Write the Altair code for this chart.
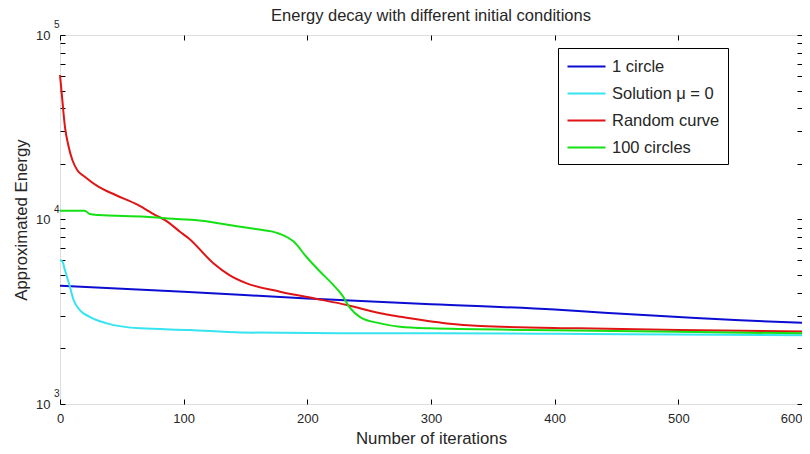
import altair as alt
import pandas as pd

title_text = "Energy decay with different initial conditions"
x_title = "Number of iterations"
y_title = "Approximated Energy"

series_names = ["1 circle", "Solution \u03bc = 0", "Random curve", "100 circles"]
series_colors = ["#0c0cd2", "#36e4f0", "#e01414", "#14e014"]

blue_x = [0, 100, 200, 300, 400, 440, 500, 550, 600]
blue_y = [4370, 4060, 3730, 3470, 3250, 3120, 2960, 2840, 2760]

cyan_x = [0, 2, 4, 8, 11, 16, 24, 38, 65, 105, 146, 226, 300, 400, 500, 600]
cyan_y = [6030, 5900, 5320, 4325, 3660, 3230, 2970, 2735, 2570, 2520, 2440, 2420, 2420, 2400, 2380, 2360]

red_x = [0, 1.4, 4, 7, 10, 14, 20, 31, 45, 63, 77, 85, 97, 104, 124, 137, 151, 178, 205,
         232, 259, 275, 313, 340, 420, 500, 600]
red_y = [60700, 48300, 31800, 24800, 21000, 18500, 17060, 15060, 13580, 12000, 10570, 9930, 8590,
         7910, 5800, 5000, 4510, 4063, 3740, 3440, 3100, 2973, 2735, 2650, 2570, 2520, 2470]

green_x = [0, 20, 24, 31, 69, 97, 109, 137, 164, 171, 178, 189, 199, 210, 221, 228, 234, 243,
           259, 275, 299, 380, 500, 600]
green_y = [11170, 11170, 10700, 10570, 10350, 10020, 9930, 9330, 8770, 8620, 8350, 7590, 6300,
           5240, 4420, 3900, 3350, 2950, 2735, 2620, 2570, 2520, 2460, 2415]

x_ticks = [0, 100, 200, 300, 400, 500, 600]
y_ticks = [1000, 2000, 3000, 4000, 5000, 6000, 7000, 8000, 9000,
           10000, 20000, 30000, 40000, 50000, 60000, 70000, 80000, 90000, 100000]
decade_values = [1000, 10000, 100000]
decade_exponents = ["3", "4", "5"]

frames = []
for name, xs, ys in zip(series_names, [blue_x, cyan_x, red_x, green_x],
                        [blue_y, cyan_y, red_y, green_y]):
    frames.append(pd.DataFrame({"iter": xs, "energy": ys, "series": name}))
df = pd.concat(frames, ignore_index=True)
exp_df = pd.DataFrame({"pos": decade_values, "exp": decade_exponents})

FONT = "Liberation Sans"
TXT = "#262626"
inward = {"expr": "-5"}

x_scale = alt.Scale(domain=[0, 600], nice=False, zero=False)
y_scale = alt.Scale(type="log", domain=[1000, 100000], nice=False)

lines = alt.Chart(df).mark_line(strokeWidth=2, interpolate="monotone").encode(
    x=alt.X("iter:Q", scale=x_scale,
            axis=alt.Axis(values=x_ticks, tickSize=inward, tickColor="black", labelPadding=13,
                          labelFontSize=13, labelFont=FONT, labelColor=TXT, grid=False,
                          labelAlign={"condition": {"test": "datum.value == 600", "value": "right"},
                                      "value": "center"},
                          domain=False, title=x_title, titleFont=FONT, titleFontSize=16.8,
                          titleFontWeight="normal", titleColor=TXT, titlePadding=5,
                          labelFlush=False)),
    y=alt.Y("energy:Q", scale=y_scale,
            axis=alt.Axis(values=y_ticks, tickSize=inward, tickColor="black", labelPadding=15,
                          labelExpr="(datum.value == 1000 || datum.value == 10000 || datum.value == 100000) ? '10' : ''",
                          labelFontSize=13, labelFont=FONT, labelColor=TXT, grid=False,
                          domain=False, title=y_title, titleFont=FONT, titleFontSize=16.8,
                          titleFontWeight="normal", titleColor=TXT, titlePadding=5)),
    color=alt.Color("series:N", scale=alt.Scale(domain=series_names, range=series_colors),
                    legend=alt.Legend(orient="none", legendX=498, legendY=13, title=None,
                                      symbolType="M-2,0H2", symbolSize=361, symbolStrokeWidth=2,
                                      symbolOffset=10, labelOffset=15, labelFontSize=16.5,
                                      labelFont=FONT, labelColor=TXT, strokeColor="black",
                                      fillColor="white", padding=8, rowPadding=8)),
)

mirror = alt.Chart(df).mark_point(opacity=0).encode(
    x=alt.X("iter:Q", scale=x_scale,
            axis=alt.Axis(orient="top", values=x_ticks, tickSize=inward, tickColor="black",
                          labels=False, grid=False, domain=False, title=None)),
    y=alt.Y("energy:Q", scale=y_scale,
            axis=alt.Axis(orient="right", values=y_ticks, tickSize=inward, tickColor="black",
                          labels=False, grid=False, domain=False, title=None)),
)

exps = alt.Chart(exp_df).mark_text(align="left", baseline="middle", fontSize=10, dy=-10,
                                   font=FONT, color=TXT).encode(
    x=alt.value(-6),
    y=alt.Y("pos:Q", scale=y_scale, axis=None),
    text="exp:N",
)

chart = alt.layer(lines, mirror, exps).resolve_axis(
    x="independent", y="independent"
).properties(
    width=742, height=369,
    title=alt.TitleParams(title_text, font=FONT, fontSize=16.5, fontWeight="normal",
                          color=TXT, frame="group", anchor="middle", offset=-4),
    autosize=alt.AutoSizeParams(type="none"),
    padding={"left": 52, "top": 27, "right": 0, "bottom": 42},
).configure_view(stroke="black", strokeWidth=1).configure(background="white")

chart.save("out.html", embed_options={"renderer": "svg", "actions": False})
